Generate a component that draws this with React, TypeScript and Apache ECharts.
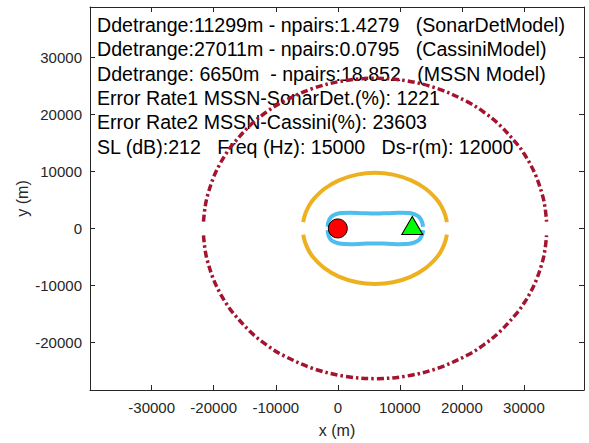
import React, { useEffect, useRef } from "react";
import * as echarts from "echarts";

// ---- Axis limits and tick labels ----
const X_MIN = -39940;
const X_MAX = 39680;
const Y_MIN = -28330;
const Y_MAX = 38830;
const xTicks = [-30000, -20000, -10000, 0, 10000, 20000, 30000];
const yTicks = [-20000, -10000, 0, 10000, 20000, 30000];

// ---- Annotation text ----
const textLines = [
  "Ddetrange:11299m - npairs:1.4279   (SonarDetModel)",
  "Ddetrange:27011m - npairs:0.0795   (CassiniModel)",
  "Ddetrange: 6650m  - npairs:18.852   (MSSN Model)",
  "Error Rate1 MSSN-SonarDet.(%): 1221",
  "Error Rate2 MSSN-Cassini(%): 23603",
  "SL (dB):212   Freq (Hz): 15000   Ds-r(m): 12000",
];

// ---- Detection contours (upper halves; lower halves are mirrored about y = 0) ----
// Cassini model (dark red, dash-dot)
const cassiniX = [
  -21650, -21400, -21000, -20000, -19000, -18000, -17000, -14000, -11500, -9000, -4000, 1000, 6000,
  11000, 16000, 21000, 23500, 26000, 29000, 30000, 31000, 32000, 33000, 33400, 33650,
];
const cassiniUpperY = [
  1200, 3670, 5770, 9030, 11310, 13130, 14660, 18220, 20420, 22150, 24560, 25900, 26340,
  25900, 24560, 22150, 20420, 18220, 14660, 13130, 11310, 9030, 5770, 3670, 1200,
];
// Sonar detection model (orange)
const sonarDetX = [
  -5580, -5300, -4720, -3900, -2150, 180, 3090, 6000, 8910, 11820, 14150, 15900, 16720, 17300, 17580,
];
const sonarDetUpperY = [
  1100, 2370, 3820, 5140, 6960, 8440, 9440, 9750, 9440, 8440, 6960, 5140, 3820, 2370, 1100,
];
// MSSN model (light blue)
const mssnX = [
  -1650, -1500, -1100, -400, 500, 2000, 4000, 6000, 8000, 10000, 11500, 12400, 13100, 13550, 13750,
];
const mssnUpperY = [
  300, 1200, 2000, 2450, 2700, 2760, 2680, 2620, 2680, 2760, 2700, 2450, 2000, 1200, 300,
];

// ---- Source and receiver positions ----
const sourcePos = [0, 0];
const receiverPos = [12000, 0];

export default function App() {
  const ref = useRef<HTMLDivElement>(null);

  useEffect(() => {
    const chart = echarts.init(ref.current!, null, { renderer: "svg" });
    const font = "'Liberation Sans', Arial, Helvetica, sans-serif";
    const axisColor = "#262626";

    const half = (xs: number[], ys: number[], sign: number) => xs.map((x, i) => [x, sign * ys[i]]);
    const curve = (name: string, xs: number[], ys: number[], color: string, width: number, type: any) =>
      [1, -1].map((s) => ({
        type: "line",
        name,
        data: half(xs, ys, s),
        showSymbol: false,
        symbol: "none",
        smooth: 0.35,
        silent: true,
        z: 3,
        lineStyle: { color, width, type, cap: "butt" },
      }));

    const xBase: any = {
      type: "value",
      min: X_MIN,
      max: X_MAX,
      splitLine: { show: false },
      axisLine: { show: true, onZero: false, lineStyle: { color: axisColor, width: 1 } },
      axisTick: { show: true, inside: true, length: 5, customValues: xTicks, lineStyle: { color: axisColor } },
    };
    const yBase: any = {
      type: "value",
      min: Y_MIN,
      max: Y_MAX,
      splitLine: { show: false },
      axisLine: { show: true, onZero: false, lineStyle: { color: axisColor, width: 1 } },
      axisTick: { show: true, inside: true, length: 5, customValues: yTicks, lineStyle: { color: axisColor } },
    };
    const fmt = (v: number) => String(Math.round(v));

    chart.setOption({
      animation: false,
      grid: { left: 90, right: 5, top: 7, bottom: 51, containLabel: false },
      xAxis: [
        {
          ...xBase,
          position: "bottom",
          name: "x (m)",
          nameLocation: "middle",
          nameGap: 32,
          nameMoveOverlap: false,
          nameTextStyle: { fontSize: 16, color: axisColor, fontFamily: font },
          axisLabel: { fontSize: 15, color: axisColor, fontFamily: font, margin: 10, customValues: xTicks, formatter: fmt },
        },
        { ...xBase, position: "top", axisLabel: { show: false } },
      ],
      yAxis: [
        {
          ...yBase,
          position: "left",
          name: "y (m)",
          nameLocation: "middle",
          nameGap: 60,
          nameMoveOverlap: false,
          nameTextStyle: { fontSize: 16, color: axisColor, fontFamily: font },
          axisLabel: { fontSize: 15, color: axisColor, fontFamily: font, margin: 8, customValues: yTicks, formatter: fmt },
        },
        { ...yBase, position: "right", axisLabel: { show: false } },
      ],
      graphic: textLines.map((t, i) => ({
        type: "text",
        x: 97,
        y: 25 + i * 24.3,
        z: 0,
        silent: true,
        style: {
          text: t,
          fontSize: 19.6,
          fontFamily: font,
          fill: "#000000",
          align: "left",
          verticalAlign: "middle",
        },
      })),
      series: [
        ...curve("Cassini", cassiniX, cassiniUpperY, "#A2142F", 3.5, [7, 3, 2.5, 3]),
        ...curve("SonarDet", sonarDetX, sonarDetUpperY, "#EDB120", 4, "solid"),
        ...curve("MSSN", mssnX, mssnUpperY, "#4DBEEE", 4, "solid"),
        {
          type: "scatter",
          name: "Source",
          data: [sourcePos],
          symbol: "circle",
          symbolSize: 19,
          z: 5,
          itemStyle: { color: "#FF0000", borderColor: "#000000", borderWidth: 1, opacity: 1 },
        },
        {
          type: "scatter",
          name: "Receiver",
          data: [receiverPos],
          symbol: "triangle",
          symbolSize: [21, 18],
          symbolOffset: [0, -3],
          z: 5,
          itemStyle: { color: "#00FF00", borderColor: "#000000", borderWidth: 1, opacity: 1 },
        },
      ],
    });

    return () => chart.dispose();
  }, []);

  return <div ref={ref} style={{ position: "absolute", left: 0, top: 0, width: 589, height: 443 }} />;
}
